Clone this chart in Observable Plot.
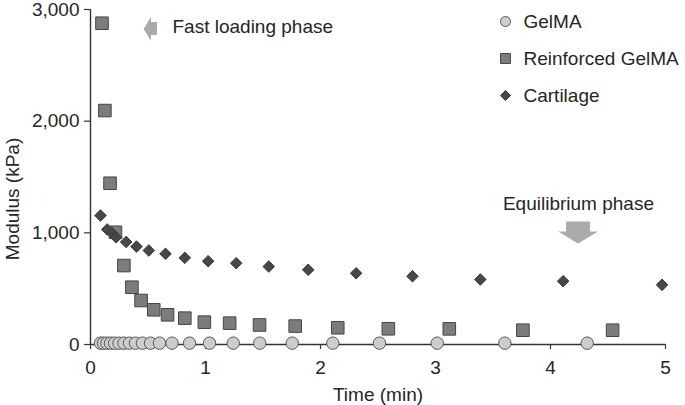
<!DOCTYPE html>
<html>
<head>
<meta charset="utf-8">
<script src="https://cdn.jsdelivr.net/npm/d3@7"></script>
<script src="https://cdn.jsdelivr.net/npm/@observablehq/plot@0.6"></script>
<style>
  body { margin: 0; background: white; }
</style>
</head>
<body>
<div id="chart"></div>
<script>
// ---- data ----
const series = ["GelMA", "Reinforced GelMA", "Cartilage"];
const xTicks = [0, 1, 2, 3, 4, 5];
const yTicks = [0, 1000, 2000, 3000];
const xLabel = "Time (min)";
const yLabel = "Modulus (kPa)";

const gelmaTime = [0.087, 0.113, 0.143, 0.174, 0.209, 0.248, 0.291, 0.339, 0.391, 0.452, 0.522, 0.600, 0.709, 0.861, 1.035, 1.241, 1.472, 1.754, 2.107, 2.513, 3.015, 3.603, 4.319];
const gelmaModulus = [12, 12, 12, 12, 12, 12, 12, 12, 12, 12, 12, 12, 12, 12, 12, 12, 12, 12, 12, 12, 12, 12, 12];

const reinfTime = [0.10, 0.125, 0.17, 0.217, 0.29, 0.36, 0.44, 0.55, 0.67, 0.82, 0.99, 1.21, 1.47, 1.78, 2.15, 2.59, 3.12, 3.76, 4.54];
const reinfModulus = [2877, 2095, 1444, 1005, 707, 513, 394, 311, 266, 236, 200, 191, 175, 165, 150, 141, 140, 128, 128];

const cartTime = [0.087, 0.145, 0.19, 0.223, 0.31, 0.40, 0.507, 0.652, 0.82, 1.023, 1.267, 1.55, 1.893, 2.31, 2.80, 3.39, 4.11, 4.97];
const cartModulus = [1155, 1030, 995, 960, 918, 877, 842, 812, 776, 746, 728, 698, 669, 638, 611, 582, 567, 534];

const annotationTexts = ["Fast loading phase", "Equilibrium phase"];
const annotationX = [0.713, 4.243];
const annotationY = [2840, 1263];
const arrowX = [0.52, 4.24];
const arrowY = [2825, 1003];

// ---- build tables ----
const zip = (xs, ys, s) => xs.map((x, i) => ({x, y: ys[i], s}));
const gelma = zip(gelmaTime, gelmaModulus, series[0]);
const reinf = zip(reinfTime, reinfModulus, series[1]);
const cart = zip(cartTime, cartModulus, series[2]);

const styles = [
  {symbol: "circle", fill: "#cdcdcd", stroke: "#575757", r: 6.2, lr: 5},
  {symbol: "square", fill: "#7c7c7c", stroke: "#454545", r: 7.1, lr: 5.6},
  {symbol: "diamond2", fill: "#474747", stroke: "#3a3a3a", r: 5.2, lr: 4.5}
];

const leftArrow = {draw(ctx) {
  ctx.moveTo(-6.7, 0); ctx.lineTo(0.7, -12.3); ctx.lineTo(0.7, -7); ctx.lineTo(6.7, -7);
  ctx.lineTo(6.7, 6); ctx.lineTo(0.7, 6); ctx.lineTo(0.7, 11.7); ctx.closePath();
}};
const downArrow = {draw(ctx) {
  ctx.moveTo(-12, -11); ctx.lineTo(12, -11); ctx.lineTo(12, -1); ctx.lineTo(20, -1);
  ctx.lineTo(0, 11); ctx.lineTo(-20, -1); ctx.lineTo(-12, -1); ctx.closePath();
}};

const textColor = "#262626";
const fontSize = 19;

const legendMarks = series.flatMap((name, i) => [
  Plot.dot([name], {frameAnchor: "top-right", dx: -160, dy: 12 + i * 37,
    symbol: styles[i].symbol, r: styles[i].lr, fill: styles[i].fill, stroke: styles[i].stroke, strokeWidth: 1}),
  Plot.text([name], {frameAnchor: "top-right", dx: -142, dy: 12 + i * 37,
    text: d => d, textAnchor: "start", lineAnchor: "middle", fontSize, fill: textColor})
]);

const chart = Plot.plot({
  width: 685,
  height: 405,
  marginLeft: 90,
  marginRight: 20,
  marginTop: 9,
  marginBottom: 61,
  style: {fontFamily: "'Liberation Sans', Arial, Helvetica, sans-serif", fontSize: "19px", color: textColor, background: "white"},
  x: {domain: [0, 5]},
  y: {domain: [0, 3000]},
  marks: [
    Plot.ruleY([0], {stroke: "#333", strokeWidth: 1.4}),
    Plot.ruleX([0], {stroke: "#333", strokeWidth: 1.4}),
    Plot.axisX({ticks: xTicks, tickFormat: d => d3.format("d")(d), tickSize: 5, tickPadding: 11, fontSize, label: null, stroke: "#333", strokeWidth: 1.2}),
    Plot.axisY({ticks: yTicks, tickFormat: d => d3.format(",d")(d), tickSize: 6, tickPadding: 5, fontSize, label: null, stroke: "#333", strokeWidth: 1.2}),
    Plot.text([xLabel], {frameAnchor: "bottom", dy: 50, text: d => d, lineAnchor: "middle", fontSize, fill: textColor}),
    Plot.text([yLabel], {frameAnchor: "left", dx: -78, dy: 22, text: d => d, rotate: -90, textAnchor: "middle", lineAnchor: "middle", fontSize, fill: textColor}),
    Plot.dot(gelma, {x: "x", y: "y", symbol: styles[0].symbol, r: styles[0].r, fill: styles[0].fill, stroke: styles[0].stroke, strokeWidth: 1}),
    Plot.dot(reinf, {x: "x", y: "y", symbol: styles[1].symbol, r: styles[1].r, fill: styles[1].fill, stroke: styles[1].stroke, strokeWidth: 1}),
    Plot.dot(cart, {x: "x", y: "y", symbol: styles[2].symbol, r: styles[2].r, fill: styles[2].fill, stroke: styles[2].stroke, strokeWidth: 1}),
    Plot.dot([0], {x: () => arrowX[0], y: () => arrowY[0], symbol: leftArrow, fill: "#ababab", stroke: "none"}),
    Plot.dot([0], {x: () => arrowX[1], y: () => arrowY[1], symbol: downArrow, fill: "#ababab", stroke: "none"}),
    Plot.text([annotationTexts[0]], {x: () => annotationX[0], y: () => annotationY[0], text: d => d,
      textAnchor: "start", lineAnchor: "middle", fontSize, fill: textColor}),
    Plot.text([annotationTexts[1]], {x: () => annotationX[1], y: () => annotationY[1], text: d => d,
      textAnchor: "middle", lineAnchor: "middle", fontSize, fill: textColor}),
    ...legendMarks
  ]
});
document.getElementById("chart").appendChild(chart);
</script>
</body>
</html>
